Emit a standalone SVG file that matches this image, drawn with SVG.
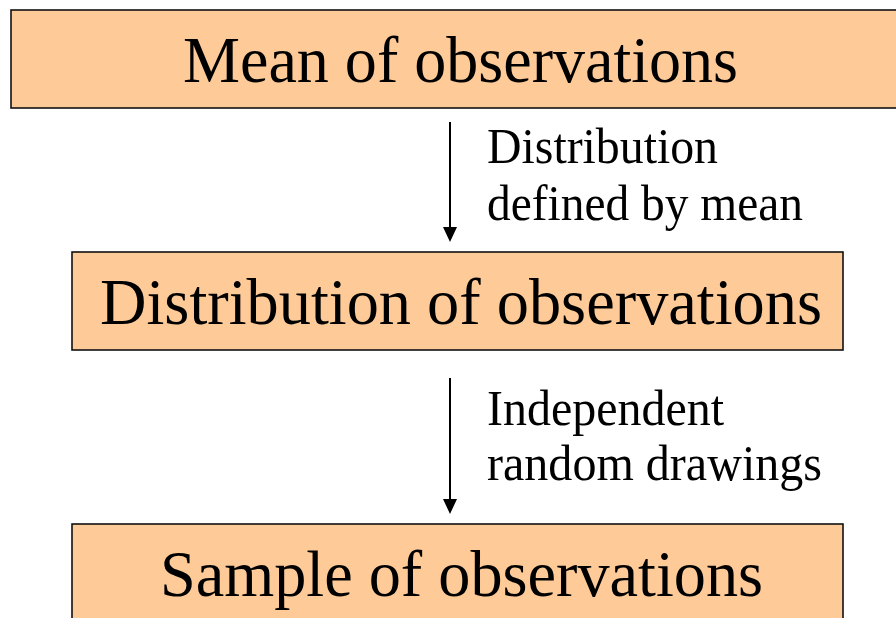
<svg xmlns="http://www.w3.org/2000/svg" width="896" height="618" viewBox="0 0 896 618">
<style>
.box{fill:#FECB98;stroke:#111;stroke-width:1.6}
.t{font-family:"Liberation Serif","DejaVu Serif",serif;fill:#000}
.big{font-size:66px}
.lab{font-size:50px}
.conn{stroke:#000;stroke-width:2;fill:none}
</style>
<defs>
<marker id="ah" markerWidth="14" markerHeight="16" refX="7" refY="15" orient="auto-start-reverse" markerUnits="userSpaceOnUse" viewBox="0 0 14 16">
<path d="M0,0 L14,0 L7,16 Z" fill="#000"/>
</marker>
</defs>
<rect width="896" height="618" fill="#fff"/>
<g id="node-mean">
<rect class="box" x="11" y="10" width="892" height="98"/>
<text class="t big" x="183" y="82" textLength="555" lengthAdjust="spacingAndGlyphs">Mean of observations</text>
</g>
<g id="node-distribution">
<rect class="box" x="72" y="252" width="771" height="98"/>
<text class="t big" x="100" y="324" textLength="722" lengthAdjust="spacingAndGlyphs">Distribution of observations</text>
</g>
<g id="node-sample">
<rect class="box" x="72" y="524" width="771" height="110"/>
<text class="t big" x="160" y="596" textLength="603" lengthAdjust="spacingAndGlyphs">Sample of observations</text>
</g>
<g id="connectors">
<line class="conn" x1="450" y1="122" x2="450" y2="228"/>
<path d="M443,227 L457,227 L450,242 Z" fill="#000"/>
<line class="conn" x1="450" y1="378" x2="450" y2="500"/>
<path d="M443,499 L457,499 L450,514 Z" fill="#000"/>
<text class="t lab" x="487" y="163" textLength="231" lengthAdjust="spacingAndGlyphs">Distribution</text>
<text class="t lab" x="487" y="220" textLength="316" lengthAdjust="spacingAndGlyphs">defined by mean</text>
<text class="t lab" x="487" y="425" textLength="237" lengthAdjust="spacingAndGlyphs">Independent</text>
<text class="t lab" x="487" y="480" textLength="335" lengthAdjust="spacingAndGlyphs">random drawings</text>
</g>
</svg>
